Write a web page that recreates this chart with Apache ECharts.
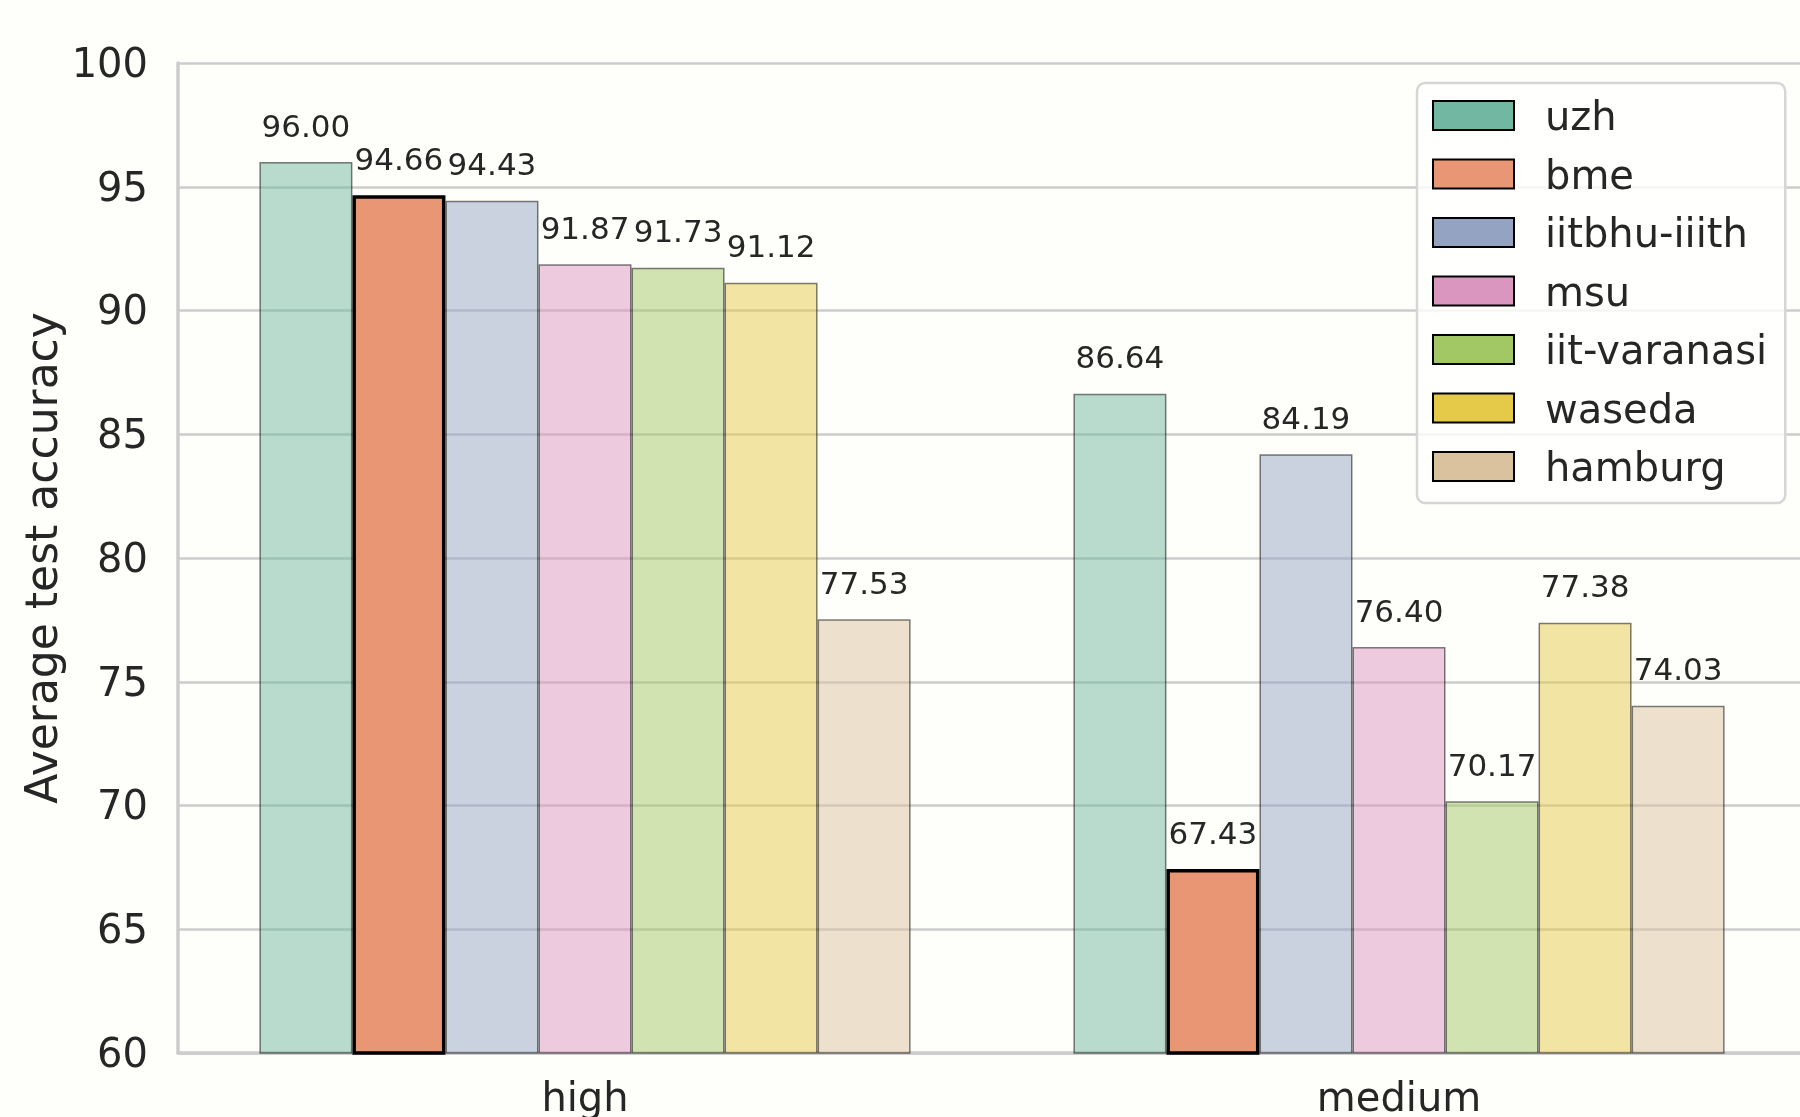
<!DOCTYPE html>
<html><head><meta charset="utf-8">
<script src="https://cdn.jsdelivr.net/npm/echarts@6/dist/echarts.min.js"></script>
<style>
html,body{margin:0;padding:0;background:#fefefa;}
#wrap{width:1800px;height:1117px;overflow:hidden;position:relative;}
#c{width:1812px;height:1117px;position:absolute;left:0;top:0;}
</style>
</head><body><div id="wrap"><div id="c"></div></div>
<script>
const categories = ['high', 'medium'];
const seriesNames = ['uzh', 'bme', 'iitbhu-iiith', 'msu', 'iit-varanasi', 'waseda', 'hamburg'];
const uzh = [96.00, 86.64];
const bme = [94.66, 67.43];
const iitbhu = [94.43, 84.19];
const msu = [91.87, 76.40];
const iitVaranasi = [91.73, 70.17];
const waseda = [91.12, 77.38];
const hamburg = [77.53, 74.03];
const yTicks = [60, 65, 70, 75, 80, 85, 90, 95, 100];

const values = [uzh, bme, iitbhu, msu, iitVaranasi, waseda, hamburg];
const colors = ['#71b7a1', '#e99675', '#95a3c3', '#db96c0', '#a2c865', '#e5c949', '#dbc29e'];
const highlight = 'bme';
const FONT = 'DejaVu Sans';
const TXT = '#262626';

function withAlpha(hex, a) {
  const r = parseInt(hex.slice(1, 3), 16), g = parseInt(hex.slice(3, 5), 16), b = parseInt(hex.slice(5, 7), 16);
  return 'rgba(' + r + ',' + g + ',' + b + ',' + a + ')';
}

const series = seriesNames.map((name, i) => {
  const hl = name === highlight;
  return {
    name: name,
    type: 'bar',
    data: values[i],
    barGap: '0%',
    barCategoryGap: '20%',
    itemStyle: hl
      ? { color: colors[i], borderColor: '#000000', borderWidth: 3.5 }
      : { color: withAlpha(colors[i], 0.5), borderColor: 'rgba(0,0,0,0.5)', borderWidth: 1.5 },
    label: {
      show: true, position: 'top', distance: 18,
      formatter: p => p.value.toFixed(2),
      fontFamily: FONT, fontSize: 31, color: TXT
    },
    emphasis: { disabled: true }
  };
});

// legend patch: 81x29 rect placed at the top of a 81x38 symbol box (so text sits slightly lower)
const legendIcon = 'path://M0,0L81,0L81,29L0,29Z M0,38';

const chart = echarts.init(document.getElementById('c'), null, { renderer: 'canvas' });
chart.setOption({
  backgroundColor: '#fefefa',
  animation: false,
  grid: { left: 178, right: 6, top: 63, bottom: 64, containLabel: false, outerBoundsMode: 'none' },
  legend: {
    orient: 'vertical', left: 1417, top: 83,
    padding: [17, 18, 12, 15],
    itemWidth: 81, itemHeight: 38, itemGap: 18.5,
    symbolKeepAspect: false,
    backgroundColor: 'rgba(255,255,255,0.8)',
    borderColor: '#d6d6d6', borderWidth: 2.5, borderRadius: 8,
    itemStyle: { opacity: 1, borderColor: '#000000', borderWidth: 2 },
    textStyle: { fontFamily: FONT, fontSize: 40, color: TXT, padding: [0, 0, 0, 26] },
    data: seriesNames.map((n, i) => ({ name: n, icon: legendIcon, itemStyle: { color: colors[i], opacity: 1, borderColor: '#000000', borderWidth: 2 } }))
  },
  xAxis: {
    type: 'category', data: categories,
    axisLine: { show: true, lineStyle: { color: '#cccccc', width: 3.5 } },
    axisTick: { show: false },
    axisLabel: { fontFamily: FONT, fontSize: 40, color: TXT, margin: 28 },
    splitLine: { show: false }
  },
  yAxis: {
    type: 'value', min: yTicks[0], max: yTicks[yTicks.length - 1], interval: 5,
    name: 'Average test accuracy', nameLocation: 'middle', nameGap: 110, nameMoveOverlap: false,
    nameTextStyle: { fontFamily: FONT, fontSize: 44, color: TXT },
    axisLine: { show: true, lineStyle: { color: '#cccccc', width: 3.5 } },
    axisTick: { show: false },
    axisLabel: {
      margin: 30, fontFamily: FONT, fontSize: 40, color: TXT,
      verticalAlign: 'top', lineHeight: 7
    },
    splitLine: { show: true, lineStyle: { color: '#cccccc', width: 2.5 } }
  },
  series: series
});
</script></body></html>
